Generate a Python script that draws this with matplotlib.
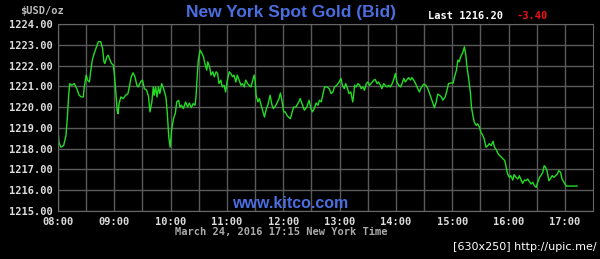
import matplotlib.pyplot as plt
import numpy as np

# minutes after 08:00 New York time, and bid price
minutes = [0, 1, 3, 6, 8.5, 10, 11.5, 12.5, 14.5, 17.5, 20, 22.5, 25, 27, 28, 30, 31.5, 33.5, 35, 36.5,
           38.5, 41, 43, 45.5, 47.5, 49, 50, 52, 53.5, 55.5, 57, 59, 60, 62, 63, 64, 65, 67, 69.5, 72,
           74.5, 76, 78, 80, 82, 84, 85.5, 88, 90, 92, 94.5, 96.5, 98, 100, 101.5, 102.5, 104, 105.5, 107, 108.5,
           110.5, 112.5, 115, 116.5, 118, 119.5, 121, 123, 125, 126.5, 128.5, 130, 131.5, 133.5, 136, 138, 140, 142, 144, 146,
           147, 148.5, 149.5, 151.5, 153, 155, 156.5, 158.5, 159.5, 161.5, 163, 165, 166.5, 168.5, 170, 171.5, 173.5, 175, 177, 178.5,
           180.5, 182.5, 184, 186, 187.5, 189.5, 191, 193, 195, 196.5, 198.5, 200, 202, 203.5, 205.5, 207, 209, 210, 211, 213,
           214.5, 216.5, 218, 220, 222, 223.5, 226, 228, 229.5, 231.5, 233, 235.5, 237, 238.5, 240.5, 242, 244, 245.5, 247.5, 249,
           251, 253.5, 256.5, 258, 260.5, 262.5, 265, 267.5, 269.5, 271, 273, 275, 277, 278.5, 280.5, 282, 284, 286.5, 289, 291,
           293, 294.5, 297, 299.5, 301.5, 303, 305, 306.5, 308.5, 310, 312, 314, 315, 316, 317.5, 319.5, 321.5, 323, 325, 326.5,
           328.5, 330, 332, 334, 336.5, 338, 340, 341.5, 343.5, 345, 347, 348.5, 350.5, 352.5, 354, 356, 357.5, 359.5, 361, 363,
           365, 366.5, 368.5, 370, 372, 373.5, 375.5, 377, 379, 381, 382.5, 385, 387, 389.5, 392, 394, 396.5, 399, 401, 403,
           404.5, 406.5, 408.5, 410, 412.5, 414.5, 416, 418.5, 421, 422.5, 424.5, 426, 427.5, 429, 430.5, 432, 433, 434.5, 435.5, 437.5,
           439.5, 440.5, 442, 443.5, 445.5, 447, 449, 450.5, 452.5, 454, 456, 458, 459.5, 461.5, 463.5, 465, 467, 469, 470.5, 472.5,
           474, 476, 477.5, 479, 481, 482.5, 484.5, 486, 488, 490, 491.5, 493.5, 495, 497, 498.5, 500.5, 502, 504, 506, 507.5,
           509.5, 511, 513, 514.5, 516.5, 518, 519.5, 521, 523, 524.5, 526.5, 528.5, 530, 532, 533.5, 535.5, 537, 539, 541.5, 544,
           553]
bid = [1218.88, 1218.31, 1218.07, 1218.15, 1218.64, 1219.52, 1220.65, 1221.13, 1221.05, 1221.13, 1220.89, 1220.57, 1220.49, 1220.49, 1220.97, 1221.54, 1221.30, 1221.21, 1221.78, 1222.26,
       1222.58, 1222.90, 1223.15, 1223.15, 1222.82, 1222.18, 1222.10, 1222.42, 1222.50, 1222.26, 1222.10, 1222.02, 1221.62, 1220.49, 1219.85, 1219.68, 1220.17, 1220.49, 1220.41, 1220.57,
       1220.65, 1220.97, 1221.46, 1221.65, 1221.46, 1221.05, 1220.97, 1221.21, 1221.30, 1220.89, 1220.81, 1220.49, 1219.77, 1220.25, 1220.97, 1220.57, 1220.97, 1220.49, 1220.97, 1220.65,
       1221.13, 1220.89, 1220.49, 1219.68, 1218.56, 1218.07, 1218.88, 1219.44, 1219.70, 1220.25, 1220.33, 1220.00, 1220.09, 1219.93, 1220.25, 1220.00, 1220.20, 1219.97, 1220.17, 1220.09,
       1220.49, 1221.62, 1222.26, 1222.74, 1222.62, 1222.42, 1222.10, 1221.78, 1222.18, 1221.94, 1221.54, 1221.70, 1221.46, 1221.70, 1221.62, 1221.13, 1221.30, 1220.97, 1221.05, 1220.73,
       1221.30, 1221.70, 1221.62, 1221.46, 1221.54, 1221.21, 1221.54, 1221.30, 1221.05, 1221.13, 1220.97, 1221.30, 1221.13, 1221.05, 1220.97, 1221.21, 1221.54, 1221.30, 1220.57, 1220.25,
       1220.41, 1220.09, 1219.85, 1219.52, 1219.93, 1220.09, 1220.57, 1220.09, 1219.93, 1220.04, 1220.17, 1220.41, 1220.68, 1220.33, 1219.77, 1219.77, 1219.60, 1219.52, 1219.44, 1219.68,
       1220.00, 1220.00, 1220.25, 1220.41, 1220.09, 1219.85, 1220.00, 1220.33, 1219.93, 1219.77, 1219.93, 1220.20, 1220.09, 1220.33, 1220.25, 1220.57, 1220.97, 1220.97, 1220.89, 1220.65,
       1220.73, 1220.97, 1221.05, 1221.21, 1221.38, 1221.05, 1220.89, 1221.13, 1220.89, 1220.65, 1220.73, 1220.25, 1220.57, 1221.05, 1220.97, 1221.13, 1221.05, 1220.89, 1220.97, 1220.81,
       1221.13, 1221.21, 1221.05, 1221.16, 1221.30, 1221.33, 1221.13, 1221.21, 1221.05, 1220.89, 1221.13, 1221.05, 1220.97, 1221.05, 1220.97, 1221.13, 1221.30, 1221.62, 1221.21, 1221.05,
       1220.97, 1221.13, 1221.38, 1221.21, 1221.33, 1221.42, 1221.30, 1221.42, 1221.30, 1221.13, 1220.97, 1220.73, 1220.94, 1221.10, 1221.05, 1220.89, 1220.57, 1220.25, 1219.97, 1220.25,
       1220.62, 1220.57, 1220.49, 1220.33, 1220.49, 1220.81, 1221.13, 1221.16, 1221.16, 1221.46, 1221.78, 1222.26, 1222.18, 1222.42, 1222.55, 1222.74, 1222.90, 1222.50, 1222.02, 1221.38,
       1220.65, 1220.00, 1219.60, 1219.28, 1219.12, 1219.20, 1219.04, 1218.80, 1218.64, 1218.48, 1218.07, 1218.15, 1218.24, 1218.15, 1218.36, 1218.07, 1217.94, 1217.75, 1217.67, 1217.59,
       1217.51, 1217.43, 1217.10, 1216.78, 1216.62, 1216.70, 1216.49, 1216.75, 1216.62, 1216.54, 1216.70, 1216.49, 1216.33, 1216.49, 1216.46, 1216.54, 1216.43, 1216.30, 1216.38, 1216.22,
       1216.14, 1216.38, 1216.62, 1216.70, 1216.86, 1217.18, 1217.10, 1216.94, 1216.46, 1216.54, 1216.70, 1216.62, 1216.70, 1216.78, 1216.94, 1216.86, 1216.54, 1216.38, 1216.20, 1216.20,
       1216.20]

hour_labels = ['08:00', '09:00', '10:00', '11:00', '12:00', '13:00', '14:00', '15:00', '16:00', '17:00']
price_ticks = [1215, 1216, 1217, 1218, 1219, 1220, 1221, 1222, 1223, 1224]
last_price = 1216.20
change = -3.40

mono = 'DejaVu Sans Mono'

fig = plt.figure(figsize=(6, 2.59), dpi=100, facecolor='black')
ax = fig.add_axes([58 / 600, 1 - 211 / 259, 535 / 600, 187 / 259])
ax.set_facecolor('black')

x = 8 + np.array(minutes) / 60
ax.plot(x, bid, color='#22dd22', lw=1.0)

ax.set_xlim(8, 17.5)
ax.set_ylim(1215, 1224)
ax.set_xticks(range(8, 18))
ax.set_xticklabels(hour_labels)
ax.set_xticks(np.arange(8.5, 17.5, 1), minor=True)
ax.set_yticks(price_ticks)
ax.set_yticklabels(['%.2f' % p for p in price_ticks])
ax.grid(True, which='both', color='#5a5a5a', lw=1.0)
ax.tick_params(which='both', length=0, colors='#dddddd', labelsize=7.5, pad=4)
for lab in ax.get_xticklabels() + ax.get_yticklabels():
    lab.set_family(mono)
    lab.set_weight('bold')
for s in ax.spines.values():
    s.set_color('#666666')

fig.text(291 / 600, 1 - 13 / 259, 'New York Spot Gold (Bid)', color='#4a6ee0',
         fontsize=12.5, fontweight='bold', family='Liberation Sans', ha='center', va='center')
fig.text(428 / 600, 1 - 16 / 259, 'Last %.2f' % last_price, color='white',
         fontsize=7.5, fontweight='bold', family=mono, ha='left', va='center')
fig.text(517 / 600, 1 - 16 / 259, '%.2f' % change, color='#ee1111',
         fontsize=7.5, fontweight='bold', family=mono, ha='left', va='center')
fig.text(42 / 600, 1 - 11 / 259, '$USD/oz', color='#bbbbbb',
         fontsize=7.5, family=mono, fontweight='bold', ha='center', va='center')
fig.text(290 / 600, 1 - 204 / 259, 'www.kitco.com', color='#4a6ee0',
         fontsize=11.5, fontweight='bold', family='Liberation Sans', ha='center', va='center')
fig.text(281 / 600, 1 - 232 / 259, 'March 24, 2016 17:15 New York Time', color='#aaaaaa',
         fontsize=7.5, fontweight='bold', family=mono, ha='center', va='center')
fig.text(525 / 600, 1 - 247 / 259, '[630x250] http://upic.me/', color='white',
         fontsize=8, family='DejaVu Sans', ha='center', va='center')

plt.savefig('out.png', dpi=100, facecolor='black')
